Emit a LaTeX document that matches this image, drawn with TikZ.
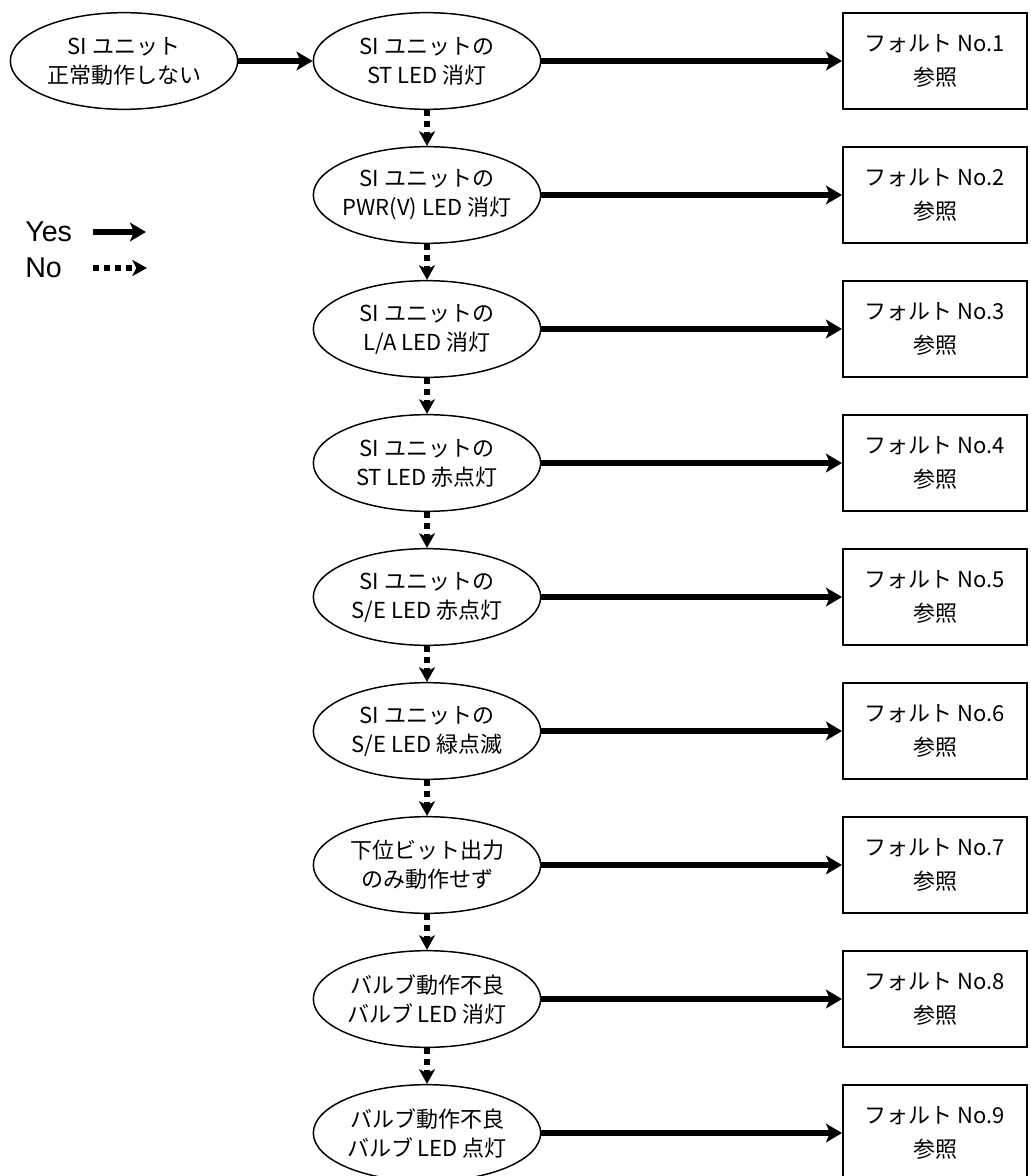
\documentclass[tikz,border=0pt]{standalone}
\usepackage{fontspec}
\setmainfont{Liberation Sans}
\newfontfamily\jp{Noto Sans CJK JP}
\usetikzlibrary{arrows.meta,shapes.geometric}
\begin{document}
\begin{tikzpicture}[x=0.75pt,y=-0.75pt,
  ell/.style={ellipse,draw,line width=1.1pt,minimum width=170.5pt,minimum height=72.5pt,inner xsep=-25pt,inner ysep=-5pt,align=center,font=\jp\fontsize{16.5pt}{21.75pt}\selectfont},
  fbox/.style={rectangle,draw,line width=1.5pt,minimum width=138pt,minimum height=72pt,inner sep=0pt,align=center,font=\jp\fontsize{16.5pt}{25.5pt}\selectfont},
  yes/.style={line width=4.2pt,-{Stealth[length=12pt,width=14pt,inset=3pt]}},
  no/.style={line width=4.2pt,dash pattern=on 4.5pt off 3.75pt,-{Stealth[length=11pt,width=12pt,inset=3pt]}},
  legend/.style={anchor=base west,inner sep=0pt,font=\fontsize{21.5pt}{24pt}\selectfont}
]
\useasboundingbox (0,0) rectangle (1030,1176);
\node[ell] (s) at (124,61) {SI ユニット\\正常動作しない};
\foreach \i/\t in {
  1/{SI ユニットの\\ST LED 消灯},
  2/{SI ユニットの\\PWR(V) LED 消灯},
  3/{SI ユニットの\\L/A LED 消灯},
  4/{SI ユニットの\\ST LED 赤点灯},
  5/{SI ユニットの\\S/E LED 赤点灯},
  6/{SI ユニットの\\S/E LED 緑点滅},
  7/{下位ビット出力\\のみ動作せず},
  8/{バルブ動作不良\\バルブ LED 消灯},
  9/{バルブ動作不良\\バルブ LED 点灯}}{
  \node[ell] (e\i) at (427,{61+134*(\i-1)}) {\t};
  \node[fbox] (f\i) at (935,{61+134*(\i-1)}) {フォルト No.\i\\参照};
  \draw[yes] (e\i) -- (f\i);
}
\draw[yes] (s) -- (e1);
\foreach \i [evaluate=\i as \j using int(\i+1)] in {1,...,8}
  \draw[no] (e\i) -- (e\j);
% legend
\node[legend] (ly) at (25,242) {Yes};
\node[legend] (ln) at (25,278) {No};
\coordinate (ys) at (93,232);
\coordinate (ye) at (146,232);
\coordinate (ns) at (93,268);
\coordinate (ne) at (147,268);
\draw[yes] (ys) -- (ye);
\draw[no] (ns) -- (ne);
\end{tikzpicture}
\end{document}
